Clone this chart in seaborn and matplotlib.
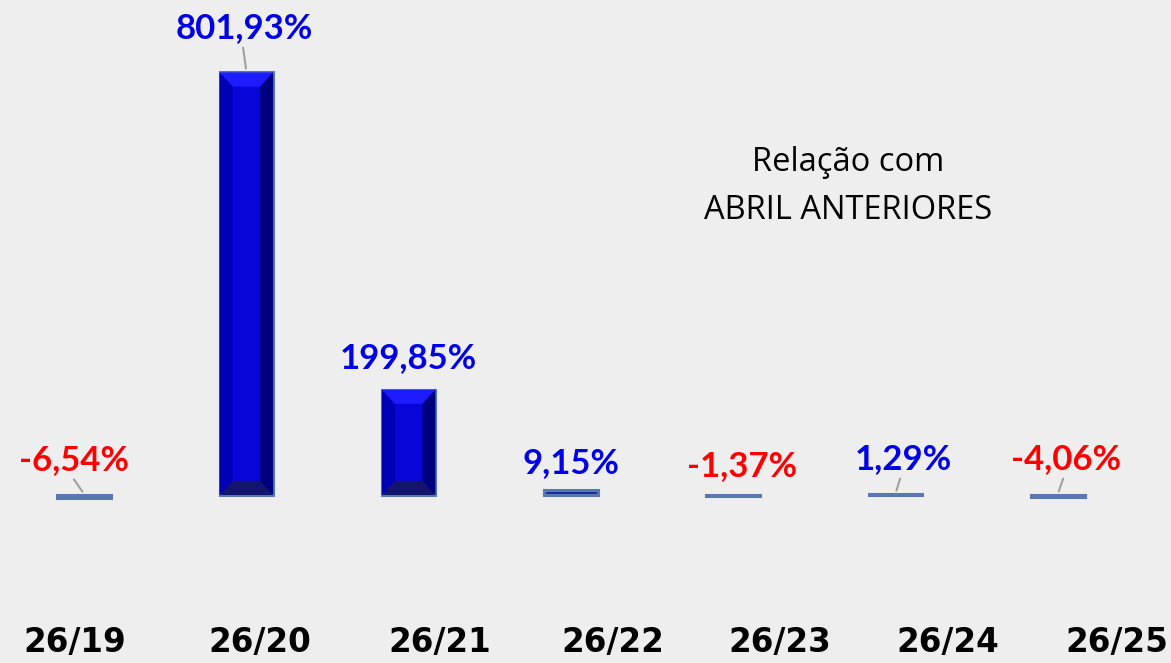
import matplotlib
matplotlib.use("Agg")
import matplotlib.pyplot as plt
import matplotlib.transforms as mtransforms
from matplotlib.patches import Polygon
import seaborn as sns
import pandas as pd

# data
periodos = ["26/19", "26/20", "26/21", "26/22", "26/23", "26/24", "26/25"]
variacao = [-6.54, 801.93, 199.85, 9.15, -1.37, 1.29, -4.06]

# layout of value labels (offset from bar centre, height in data units)
label_dx = [-0.06, -0.01, 0.0, 0.0, 0.055, 0.045, 0.05]
label_y = [66, 886, 260, 61, 55, 68, 68]
leaders = [0, 1, 5, 6]
tick_x = [-0.055, 1.084, 2.193, 3.259, 4.288, 5.323, 6.365]

BG = "#eeeeee"
BLUE_TXT = "#0000e6"
RED_TXT = "#ff0000"

sns.set_style("white")
fig = plt.figure(figsize=(11.71, 6.63), dpi=100, facecolor=BG)
ax = fig.add_axes([0, 0, 1, 1])
ax.set_facecolor(BG)

df = pd.DataFrame({"periodo": periodos, "variacao": variacao})
sns.barplot(data=df, x="periodo", y="variacao", color="#0606d8", width=0.33,
            edgecolor="#5a78b0", linewidth=2.2, saturation=1, ax=ax)

ax.set_xlim(-0.5176, 6.697)
ax.set_ylim(-318.8, 939.3)

# bevel faces on the tall bars
bx, by = 0.08, 27
for p in ax.patches:
    x0, w, h = p.get_x(), p.get_width(), p.get_height()
    if h < 3 * by:
        if h > 5:
            p.set_facecolor("#1a2aa0")
        continue
    x1, y0, y1 = x0 + w, 0, h
    faces = [
        ([(x0, y1), (x1, y1), (x1 - bx, y1 - by), (x0 + bx, y1 - by)], "#1c1cff"),
        ([(x0, y0), (x1, y0), (x1 - bx, y0 + by), (x0 + bx, y0 + by)], "#14146e"),
        ([(x0, y0), (x0, y1), (x0 + bx, y1 - by), (x0 + bx, y0 + by)], "#0000b4"),
        ([(x1, y0), (x1, y1), (x1 - bx, y1 - by), (x1 - bx, y0 + by)], "#00007e"),
    ]
    for pts, c in faces:
        ax.add_patch(Polygon(pts, closed=True, facecolor=c, edgecolor="none", zorder=p.get_zorder() + 0.1))

lab_font = ["Lato", "DejaVu Sans"]
for i, v in enumerate(variacao):
    cor = RED_TXT if v < 0 else BLUE_TXT
    txt = f"{v:.2f}%".replace(".", ",")
    lx = i + label_dx[i]
    ax.text(lx, label_y[i], txt, ha="center", va="center", fontsize=25,
            fontweight="bold", color=cor, family=lab_font)
    if i in leaders:
        ax.annotate("", xy=(i, max(v, 0) + 2), xytext=(lx - 0.012, label_y[i] - 32),
                    arrowprops=dict(arrowstyle="-", color="#a0a0a0", lw=1.5))

trans = mtransforms.blended_transform_factory(ax.transData, ax.transAxes)
for i, p in enumerate(periodos):
    ax.text(tick_x[i], 0.031, p, transform=trans, ha="center", va="center",
            fontsize=23.5, fontweight="bold", color="black", family="DejaVu Sans")

ax.text(0.724, 0.718, "Relação com\nABRIL ANTERIORES", transform=ax.transAxes,
        ha="center", va="center", fontsize=23.5, color="black", linespacing=1.6,
        family=["Open Sans", "DejaVu Sans"])

ax.set_xticks([])
ax.set_yticks([])
ax.set_xlabel("")
ax.set_ylabel("")
for s in ax.spines.values():
    s.set_visible(False)

fig.savefig("out.png", dpi=100, facecolor=BG)
